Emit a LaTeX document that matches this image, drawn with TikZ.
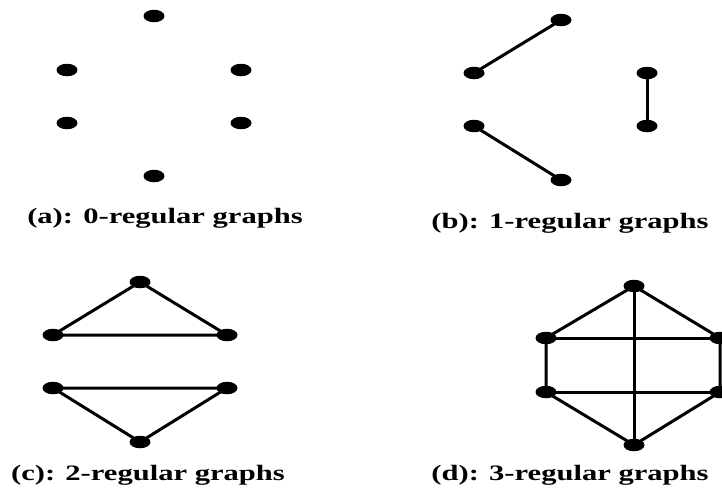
\documentclass[tikz,border=0pt]{standalone}
\usepackage{fontspec}
\usepackage{graphicx}
\setmainfont{Liberation Serif}
\usetikzlibrary{shapes.geometric}
\newcommand{\wide}[1]{\scalebox{1.39}[1]{#1}}
\begin{document}
\begin{tikzpicture}[x=1pt,y=-1pt,
  vtx/.style={ellipse,fill=black,inner sep=0pt,minimum width=21pt,minimum height=12.5pt},
  edge/.style={line width=3pt,black},
  captxt/.style={font=\bfseries\fontsize{22}{26}\selectfont,inner sep=0pt}]
\useasboundingbox (0,0) rectangle (722,491);
% (a)
\node[vtx] (a1) at (154,16) {};
\node[vtx] (a2) at (67,70) {};
\node[vtx] (a3) at (241,70) {};
\node[vtx] (a4) at (67,123) {};
\node[vtx] (a5) at (241,123) {};
\node[vtx] (a6) at (154,176) {};
\node[captxt] (la) at (165,218) {\wide{(a): 0-regular graphs}};
% (b)
\node[vtx] (b1) at (561,20) {};
\node[vtx] (b2) at (474,73) {};
\node[vtx] (b3) at (474,126) {};
\node[vtx] (b4) at (561,180) {};
\node[vtx] (b5) at (647,73) {};
\node[vtx] (b6) at (647,126) {};
\draw[edge] (b1.center) -- (b2.center);
\draw[edge] (b3.center) -- (b4.center);
\draw[edge] (b5.center) -- (b6.center);
\node[captxt] (lb) at (570,223) {\wide{(b): 1-regular graphs}};
% (c)
\node[vtx] (c1) at (140,282) {};
\node[vtx] (c2) at (53,335) {};
\node[vtx] (c3) at (227,335) {};
\node[vtx] (c4) at (53,388) {};
\node[vtx] (c5) at (227,388) {};
\node[vtx] (c6) at (140,442) {};
\draw[edge] (c1.center) -- (c2.center) -- (c3.center) -- cycle;
\draw[edge] (c4.center) -- (c5.center) -- (c6.center) -- cycle;
\node[captxt] (lc) at (148,475) {\wide{(c): 2-regular graphs}};
% (d)
\node[vtx] (d1) at (634,286) {};
\node[vtx] (d2) at (546,338) {};
\node[vtx] (d3) at (720,338) {};
\node[vtx] (d4) at (546,392) {};
\node[vtx] (d5) at (720,392) {};
\node[vtx] (d6) at (634,445) {};
\draw[edge] (d1.center) -- (d2.center) -- (d4.center) -- (d6.center) -- (d5.center) -- (d3.center) -- cycle;
\draw[edge] (d1.center) -- (d6.center);
\draw[edge] (d2.center) -- (d3.center);
\draw[edge] (d4.center) -- (d5.center);
\node[captxt] (ld) at (570,475) {\wide{(d): 3-regular graphs}};
\end{tikzpicture}
\end{document}
